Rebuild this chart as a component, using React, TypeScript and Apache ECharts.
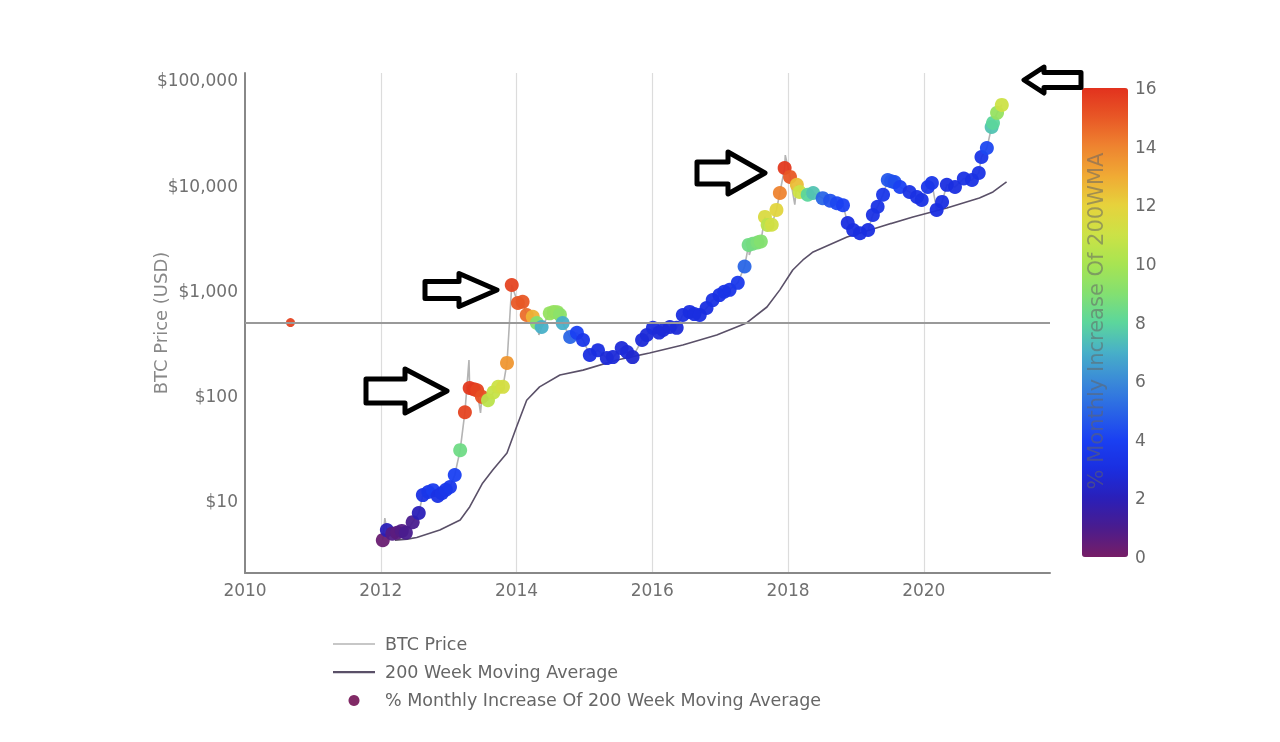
import React, { useEffect, useRef } from "react";
import * as echarts from "echarts";

// ---- data (decimal year, USD, % monthly increase of 200WMA) ----
const pointYears = [2012.03, 2012.09, 2012.17, 2012.24, 2012.31, 2012.37, 2012.47, 2012.56, 2012.62, 2012.7, 2012.77, 2012.84, 2012.9, 2012.96, 2013.02, 2013.09, 2013.17, 2013.24, 2013.31, 2013.37, 2013.42, 2013.49, 2013.58, 2013.66, 2013.73, 2013.8, 2013.86, 2013.93, 2014.02, 2014.09, 2014.15, 2014.24, 2014.3, 2014.37, 2014.49, 2014.55, 2014.6, 2014.64, 2014.68, 2014.79, 2014.89, 2014.98, 2015.08, 2015.2, 2015.33, 2015.42, 2015.55, 2015.63, 2015.71, 2015.85, 2015.92, 2016.01, 2016.1, 2016.16, 2016.26, 2016.36, 2016.45, 2016.55, 2016.62, 2016.7, 2016.8, 2016.89, 2016.99, 2017.06, 2017.14, 2017.26, 2017.36, 2017.42, 2017.48, 2017.55, 2017.6, 2017.66, 2017.7, 2017.76, 2017.83, 2017.88, 2017.95, 2018.03, 2018.13, 2018.17, 2018.29, 2018.37, 2018.51, 2018.62, 2018.72, 2018.81, 2018.88, 2018.96, 2019.06, 2019.18, 2019.25, 2019.32, 2019.4, 2019.47, 2019.52, 2019.57, 2019.65, 2019.79, 2019.9, 2019.97, 2020.06, 2020.12, 2020.19, 2020.27, 2020.34, 2020.46, 2020.59, 2020.71, 2020.81, 2020.85, 2020.93, 2021.0, 2021.02, 2021.08, 2021.15];
const pointPrices = [4.25, 5.3, 4.9, 5.0, 5.2, 5.0, 6.3, 7.7, 11.4, 12.2, 12.7, 11.2, 11.9, 12.8, 13.6, 17.7, 30.5, 70, 119, 116, 113, 98, 91, 108, 122, 122, 206, 1135, 766, 785, 589, 565, 494, 453, 610, 630, 625, 590, 493, 363, 398, 340, 245, 272, 229, 234, 285, 261, 234, 340, 380, 444, 400, 424, 453, 444, 589, 630, 600, 589, 685, 816, 910, 980, 1020, 1190, 1700, 2730, 2800, 2880, 2950, 5040, 4230, 4240, 5880, 8510, 14700, 12100, 10200, 8700, 8200, 8500, 7600, 7200, 6800, 6500, 4410, 3780, 3530, 3780, 5260, 6300, 8200, 11300, 11000, 10800, 9700, 8700, 7800, 7300, 9700, 10600, 5880, 7000, 10170, 9700, 11700, 11300, 13200, 18700, 22800, 36200, 39500, 49200, 58600];
const pointPct = [0.3, 2.0, 0.8, 0.6, 0.8, 1.0, 1.0, 2.0, 3.2, 3.5, 3.8, 3.2, 3.4, 3.5, 3.6, 4.0, 8.5, 15.5, 15.8, 15.8, 15.5, 15.2, 10.5, 10.8, 11, 11.3, 13.5, 15.5, 15, 15, 14.5, 12.8, 9, 7, 9.5, 9.5, 9.5, 9.2, 7, 5, 4, 3.5, 3, 3, 2.8, 2.8, 2.8, 2.8, 2.6, 2.8, 2.8, 2.9, 2.8, 2.8, 2.8, 2.8, 3, 3, 3, 3, 3, 3.2, 3.2, 3.4, 3.4, 3.6, 5, 8.5, 8.6, 8.8, 9, 11.5, 10.5, 11.2, 11.8, 14, 15.8, 15, 12.5, 11, 8, 7.5, 5, 4.5, 4.2, 4, 3, 3, 3, 3, 3.2, 3.3, 3.5, 4.6, 4.6, 4.4, 4, 3.3, 3.2, 3.2, 3.5, 3.5, 3, 3, 3, 3, 3.2, 3.2, 3.3, 3.4, 4.2, 7.5, 8, 9.5, 11];

// isolated early reading
const earlyYears = [2010.67];
const earlyPrices = [498];
const earlyPct = [15.5];

// intra-period highs / lows drawn only in the price line
const spikeYears = [2012.06, 2013.3, 2013.47, 2014.33, 2017.43, 2017.96, 2018.1];
const spikePrices = [6.9, 219, 69, 380, 2190, 19500, 6600];

// 200 week moving average
const wmaYears = [2012.21, 2012.39, 2012.53, 2012.87, 2013.17, 2013.31, 2013.5, 2013.65, 2013.86, 2014.0, 2014.15, 2014.34, 2014.64, 2014.98, 2015.48, 2015.96, 2016.45, 2016.95, 2017.39, 2017.69, 2017.88, 2018.07, 2018.22, 2018.37, 2018.87, 2019.35, 2019.84, 2020.34, 2020.82, 2021.02, 2021.22];
const wmaPrices = [4.25, 4.35, 4.5, 5.3, 6.6, 8.8, 14.8, 19.7, 28.7, 50.6, 91, 122, 158, 176, 220, 256, 305, 380, 494, 701, 1020, 1578, 1964, 2340, 3250, 4050, 5040, 6130, 7640, 8710, 10840];

const referenceLevel = 500;
const colorbarTicks = [0, 2, 4, 6, 8, 10, 12, 14, 16];
const jetColors = ["#761d66", "#4a1c8e", "#2a1fb8", "#1a2ee0", "#1a40f2", "#2a66e6", "#3a8ad8", "#48b0c8", "#5cd69c", "#84e070", "#a8e452", "#cce246", "#e6d23c", "#f0aa34", "#ee8430", "#e85826", "#e2321e"];

// ---- layout ----
const GRID = { left: 245, top: 73, right: 230, bottom: 169 };
const BAR = { left: 1082, top: 88, width: 46, height: 469 };

function arrow(tipX: number, tipY: number, tailX: number, bodyH: number, headH: number, headL: number) {
  const dir = tipX > tailX ? 1 : -1;
  const hb = tipX - dir * headL;
  return {
    type: "polygon",
    shape: {
      points: [
        [tailX, tipY - bodyH / 2],
        [hb, tipY - bodyH / 2],
        [hb, tipY - headH / 2],
        [tipX, tipY],
        [hb, tipY + headH / 2],
        [hb, tipY + bodyH / 2],
        [tailX, tipY + bodyH / 2],
      ],
    },
    style: { fill: "#fff", stroke: "#000", lineWidth: 5, lineJoin: "round" },
    z: 100,
  };
}

export default function App() {
  const ref = useRef<HTMLDivElement>(null);
  useEffect(() => {
    const chart = echarts.init(ref.current!, null, { renderer: "svg" });

    const scatterData = [
      ...earlyYears.map((y, i) => [y, earlyPrices[i], earlyPct[i]]),
      ...pointYears.map((y, i) => [y, pointPrices[i], pointPct[i]]),
    ];
    const lineData = [
      ...pointYears.map((y, i) => [y, pointPrices[i]]),
      ...spikeYears.map((y, i) => [y, spikePrices[i]]),
    ].sort((a, b) => a[0] - b[0]);
    const wmaData = wmaYears.map((y, i) => [y, wmaPrices[i]]);

    const tickTexts = colorbarTicks.map((t) => ({
      type: "text",
      x: BAR.left + BAR.width + 7,
      y: BAR.top + BAR.height - (t / 16) * BAR.height,
      style: { text: String(t), fill: "#6a6a6a", font: "17px 'DejaVu Sans'", align: "left", verticalAlign: "middle" },
    }));

    const option: any = {
      animation: false,
      textStyle: { fontFamily: "DejaVu Sans" },
      grid: GRID,
      xAxis: {
        type: "value",
        min: 2010,
        max: 2021.86,
        interval: 2,
        axisLine: { show: true, lineStyle: { color: "#888", width: 2 } },
        axisTick: { show: false },
        axisLabel: { color: "#707070", fontSize: 17, margin: 8, showMaxLabel: false, formatter: (v: number) => String(v) },
        splitLine: { show: true, showMinLine: false, showMaxLine: false, lineStyle: { color: "#dcdcdc", width: 1.2 } },
      },
      yAxis: {
        type: "log",
        logBase: 10,
        min: 2.07,
        max: 117800,
        name: "BTC Price (USD)",
        nameLocation: "middle",
        nameGap: 76,
        nameMoveOverlap: false,
        nameTextStyle: { color: "#888", fontSize: 18 },
        axisLine: { show: true, lineStyle: { color: "#888", width: 2 } },
        axisTick: { show: false },
        splitLine: { show: false },
        axisLabel: {
          color: "#707070",
          fontSize: 17,
          margin: 7,
          showMinLabel: false,
          showMaxLabel: false,
          formatter: (v: number) => "$" + Math.round(v).toLocaleString("en-US"),
        },
      },
      visualMap: {
        type: "continuous",
        seriesIndex: 2,
        dimension: 2,
        min: 0,
        max: 16,
        orient: "vertical",
        left: BAR.left,
        top: BAR.top,
        itemWidth: BAR.width,
        itemHeight: BAR.height,
        padding: 0,
        calculable: false,
        text: ["", ""],
        showLabel: false,
        inRange: { color: jetColors },
      },
      legend: {
        orient: "vertical",
        left: 333,
        top: 635,
        padding: 0,
        itemWidth: 42,
        itemHeight: 11,
        itemGap: 10.2,
        textStyle: { color: "#666", fontSize: 17.5, lineHeight: 18, padding: [0, 0, 0, 5] },
        data: [
          { name: "BTC Price", icon: "path://M0,0L42,0L42,1.6L0,1.6Z", itemStyle: { color: "#b4b4b4" } },
          { name: "200 Week Moving Average", icon: "path://M0,0L42,0L42,2.2L0,2.2Z", itemStyle: { color: "#5a5068" } },
          { name: "% Monthly Increase Of 200 Week Moving Average", icon: "circle", itemStyle: { color: "#7a1f5e" } },
        ],
      },
      graphic: [
        arrow(447, 391, 366, 24, 44, 42),
        arrow(497, 290, 425, 17, 33, 38),
        arrow(765, 173, 697, 22, 42, 37),
        arrow(1024, 80, 1081, 15, 26, 20),
        ...tickTexts,
        {
          type: "text",
          x: 1096,
          y: 321,
          rotation: Math.PI / 2,
          style: {
            text: "% Monthly Increase Of 200WMA",
            fill: "rgba(100,100,100,0.55)",
            font: "21px 'DejaVu Sans'",
            align: "center",
            verticalAlign: "middle",
          },
          z: 50,
        },
      ],
      series: [
        {
          name: "BTC Price",
          type: "line",
          data: lineData,
          symbol: "none",
          lineStyle: { color: "#b4b4b4", width: 1.6 },
          z: 2,
          markLine: {
            silent: true,
            symbol: "none",
            label: { show: false },
            lineStyle: { color: "#999", width: 2, type: "solid" },
            data: [{ yAxis: referenceLevel }],
          },
        },
        {
          name: "200 Week Moving Average",
          type: "line",
          data: wmaData,
          symbol: "none",
          lineStyle: { color: "#5a5068", width: 1.6 },
          z: 3,
        },
        {
          name: "% Monthly Increase Of 200 Week Moving Average",
          type: "scatter",
          data: scatterData,
          symbolSize: (v: number[]) => (v[0] < 2011 ? 9 : 14),
          itemStyle: { color: "#7a1f5e", opacity: 0.95 },
          z: 4,
        },
      ],
    };

    chart.setOption(option);
    return () => chart.dispose();
  }, []);
  return <div ref={ref} style={{ position: "fixed", left: 0, top: 0, width: 1280, height: 742 }} />;
}
